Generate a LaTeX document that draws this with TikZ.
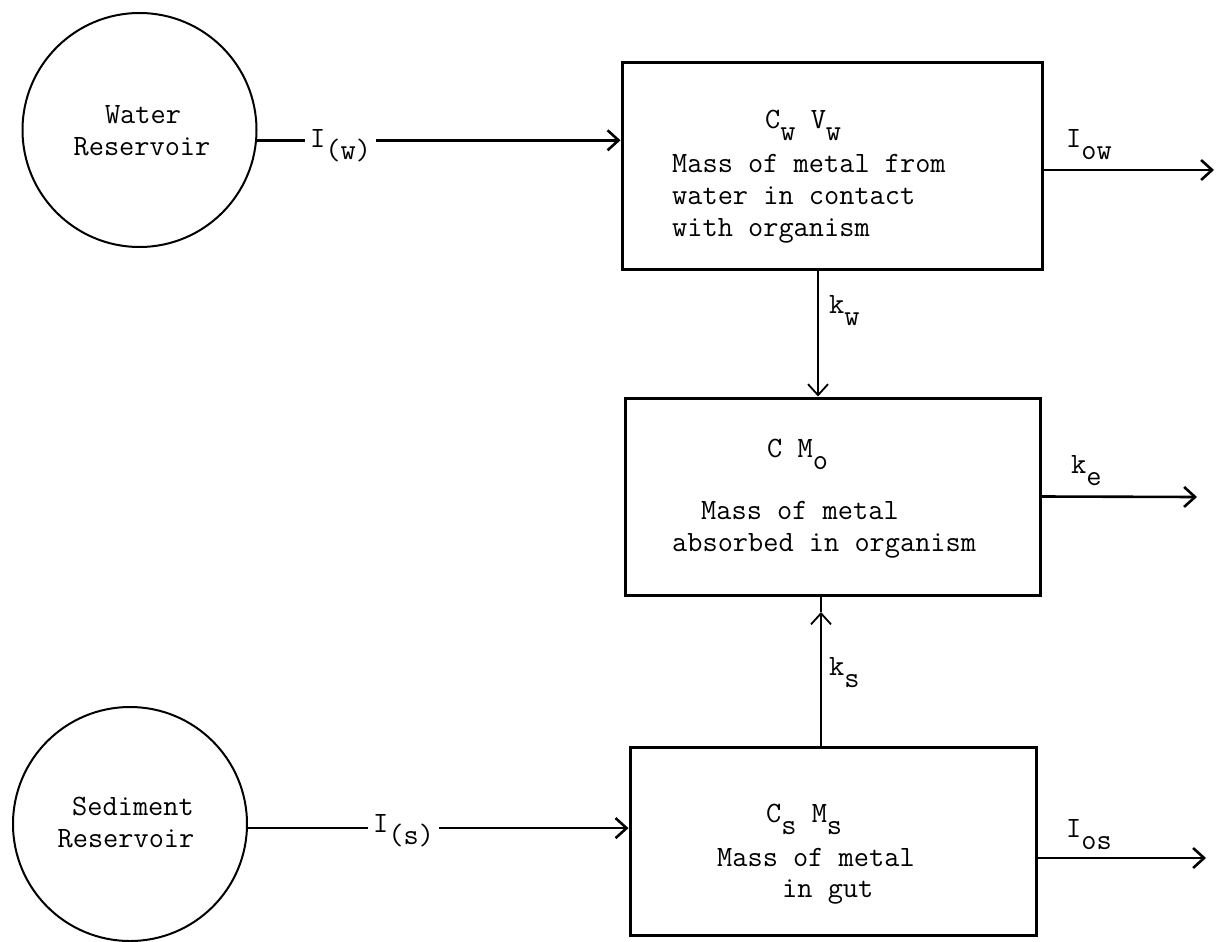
\documentclass[tikz,border=0pt]{standalone}
\usepackage{fontspec}
\usetikzlibrary{arrows.meta}
\newcommand\lowr[1]{\raisebox{-0.42em}{#1}}
\begin{document}
\begin{tikzpicture}[x=1pt,y=-1pt,
  every node/.style={font=\fontsize{29.5}{33}\selectfont\ttfamily, inner sep=0pt},
  res/.style={draw, circle, line width=2pt, minimum size=234pt, inner sep=0pt},
  compartment/.style={draw, line width=3pt, inner sep=0pt},
  flow/.style={line width=2.6pt, -{Straight Barb[length=11pt,width=20pt]}},
  vflow/.style={line width=1.8pt, -{Straight Barb[length=11pt,width=20pt]}},
  plain/.style={line width=1.8pt},
  lbl/.style={anchor=base west},
  txt/.style={anchor=base west},
  ctxt/.style={anchor=base}]
\useasboundingbox (0,0) rectangle (1218,942);
% reservoirs
\node[res] (wres) at (139.5,130) {};
\node[res] (sres) at (130,824) {};
% compartments
\node[compartment, minimum width=420pt, minimum height=206pt] (top) at (832,166) {};
\node[compartment, minimum width=415pt, minimum height=197pt] (mid) at (832.5,496.5) {};
\node[compartment, minimum width=406pt, minimum height=188pt] (bot) at (833,841) {};
% reservoir texts
\node[ctxt] (wt1) at (143,123) {Water};
\node[ctxt] (wt2) at (142,155) {Reservoir};
\node[ctxt] (st1) at (133,815) {Sediment};
\node[ctxt] (st2) at (126,847) {Reservoir};
% top box texts
\node[txt] (tt0) at (765,128) {C\lowr{w} V\lowr{w}};
\node[txt] (tt1) at (672,172) {Mass of metal from};
\node[txt] (tt2) at (672,204) {water in contact};
\node[txt] (tt3) at (672,236) {with organism};
% middle box texts
\node[txt] (mt0) at (767,457) {C M\lowr{o}};
\node[txt] (mt1) at (701,519) {Mass of metal};
\node[txt] (mt2) at (672,551) {absorbed in organism};
% bottom box texts
\node[txt] (bt0) at (766,822) {C\lowr{s} M\lowr{s}};
\node[txt] (bt1) at (717,866) {Mass of metal};
\node[txt] (bt2) at (782,897) {in gut};
% inputs
\draw[flow] (wres.-5) -- (wres.-5 -| top.west);
\node[lbl, fill=white, inner sep=5pt] (iw) at (305,147) {I\lowr{(w)}};
\draw[flow] (sres.-2.5) -- (sres.-2.5 -| bot.west);
\node[lbl, fill=white, inner sep=5pt] (is) at (368,832) {I\lowr{(s)}};
% outputs
\coordinate (owEnd) at (1214,170);
\draw[flow] (owEnd -| top.east) -- (owEnd);
\node[lbl] (iow) at (1066,147) {I\lowr{ow}};
\coordinate (keEnd) at (1197,497);
\draw[flow] (mid.east) -- (keEnd);
\node[lbl] (ke) at (1071,473) {k\lowr{e}};
\coordinate (osEnd) at (1206,858);
\draw[flow] (osEnd -| bot.east) -- (osEnd);
\node[lbl] (ios) at (1066,837) {I\lowr{os}};
% vertical exchanges
\coordinate (kwx) at (818,0);
\draw[vflow] (kwx |- top.south) -- (kwx |- mid.north);
\node[lbl] (kw) at (829,313) {k\lowr{w}};
\coordinate (ksTip) at (821,612);
\draw[vflow] (ksTip |- bot.north) -- (ksTip);
\draw[plain] (ksTip) -- (ksTip |- mid.south);
\node[lbl] (ks) at (829,675) {k\lowr{s}};
\end{tikzpicture}
\end{document}
